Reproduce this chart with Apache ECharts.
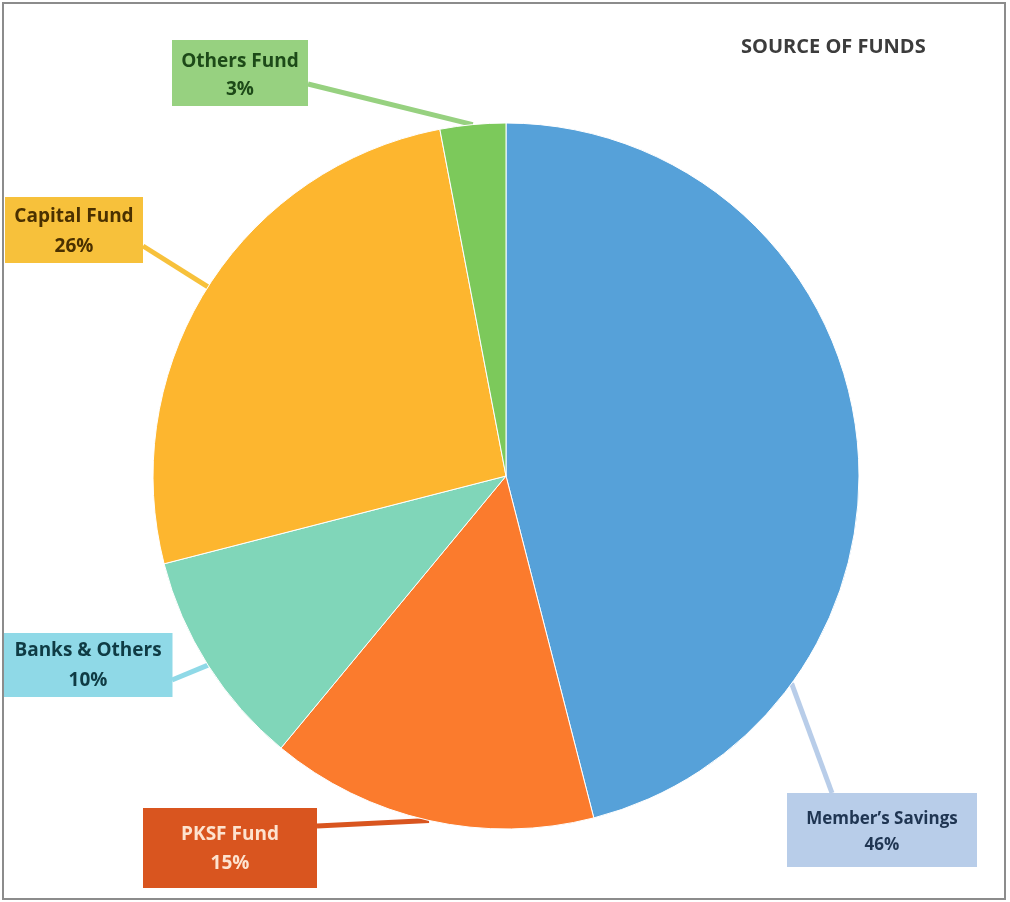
<!DOCTYPE html>
<html>
<head>
<meta charset="utf-8">
<script src="https://cdn.jsdelivr.net/npm/echarts@6/dist/echarts.min.js"></script>
<style>
  html, body { margin: 0; padding: 0; background: #ffffff; }
  #chart { width: 1010px; height: 902px; }
</style>
</head>
<body>
<div id="chart"></div>
<script>
// Source of funds breakdown (percent of total)
const categories = ['Member\u2019s Savings', 'PKSF Fund', 'Banks & Others', 'Capital Fund', 'Others Fund'];
const shares = [46, 15, 10, 26, 3];

// Slice fills and callout styling per category
const sliceColors = ['#56a1d9', '#fb7b2d', '#80d6b9', '#fdb62f', '#7cc95b'];
const calloutStyle = [
  { bg: '#b8cde9', fg: '#1f3552', size: 17, lh: 26, w: 190, pad: [13, 9], cx: 882, cy: 830, attach: [832, 793], anchorTurn: 0.35 },
  { bg: '#d9551f', fg: '#fde3cf', size: 19, lh: 29, w: 174, pad: [12, 10], cx: 230, cy: 848, attach: [317, 826] },
  { bg: '#8fd9e7', fg: '#0f3b44', size: 19, lh: 30, w: 169, pad: [3, 1], cx: 88, cy: 665, attach: [172, 680] },
  { bg: '#f7c13b', fg: '#4a3000', size: 19, lh: 30, w: 138, pad: [5, 1], cx: 74, cy: 230, attach: [143, 246] },
  { bg: '#97d180', fg: '#1d4a18', size: 19, lh: 28, w: 136, pad: [8, 2], cx: 240, cy: 73, attach: [308, 84] }
];

const pieCenter = [506, 476];
const pieRadius = 353;

// point on the pie rim at a given fraction of a full turn (clockwise from 12 o'clock)
function rimPoint(turn) {
  const a = turn * 2 * Math.PI;
  return [pieCenter[0] + pieRadius * Math.sin(a), pieCenter[1] - pieRadius * Math.cos(a)];
}

const chart = echarts.init(document.getElementById('chart'), null, { renderer: 'canvas' });

const seriesData = categories.map((name, i) => {
  const s = calloutStyle[i];
  const txt = { fontFamily: 'Open Sans', fontWeight: 'bold', fontSize: s.size, color: s.fg, lineHeight: s.lh, align: 'center' };
  return {
    name: name,
    value: shares[i],
    itemStyle: { color: sliceColors[i] },
    label: {
      backgroundColor: s.bg,
      width: s.w,
      padding: [s.pad[0], 0, s.pad[1], 0],
      align: 'center',
      verticalAlign: 'middle',
      rich: { n: txt, p: txt }
    },
    labelLine: { lineStyle: { color: s.bg, width: 5 } }
  };
});

const option = {
  animation: false,
  backgroundColor: '#ffffff',
  title: {
    text: 'SOURCE OF FUNDS',
    left: 736,
    top: 32,
    textStyle: { fontFamily: 'Open Sans', fontWeight: 'bold', fontSize: 20, color: '#3c3c3c' }
  },
  graphic: [{
    type: 'rect',
    shape: { x: 3, y: 3, width: 1002, height: 896 },
    style: { fill: 'none', stroke: '#8c8c8c', lineWidth: 2 },
    z: 100
  }],
  series: [{
    type: 'pie',
    center: pieCenter,
    radius: pieRadius,
    startAngle: 90,
    clockwise: true,
    data: seriesData,
    itemStyle: { borderColor: '#ffffff', borderWidth: 1 },
    label: {
      show: true,
      position: 'outside',
      formatter: p => '{n|' + p.name + '}\n{p|' + p.value + '%}'
    },
    labelLine: { show: true, length: 10, length2: 10, smooth: false },
    labelLayout: function (params) {
      const s = calloutStyle[params.dataIndex];
      let anchor;
      if (s.anchorTurn !== undefined) {
        anchor = rimPoint(s.anchorTurn);
      } else if (params.labelLinePoints && params.labelLinePoints[0]) {
        anchor = params.labelLinePoints[0];
      } else {
        anchor = s.attach;
      }
      return {
        x: s.cx,
        y: s.cy,
        align: 'center',
        verticalAlign: 'middle',
        labelLinePoints: [anchor, s.attach, s.attach]
      };
    }
  }]
};

chart.setOption(option);
</script>
</body>
</html>
